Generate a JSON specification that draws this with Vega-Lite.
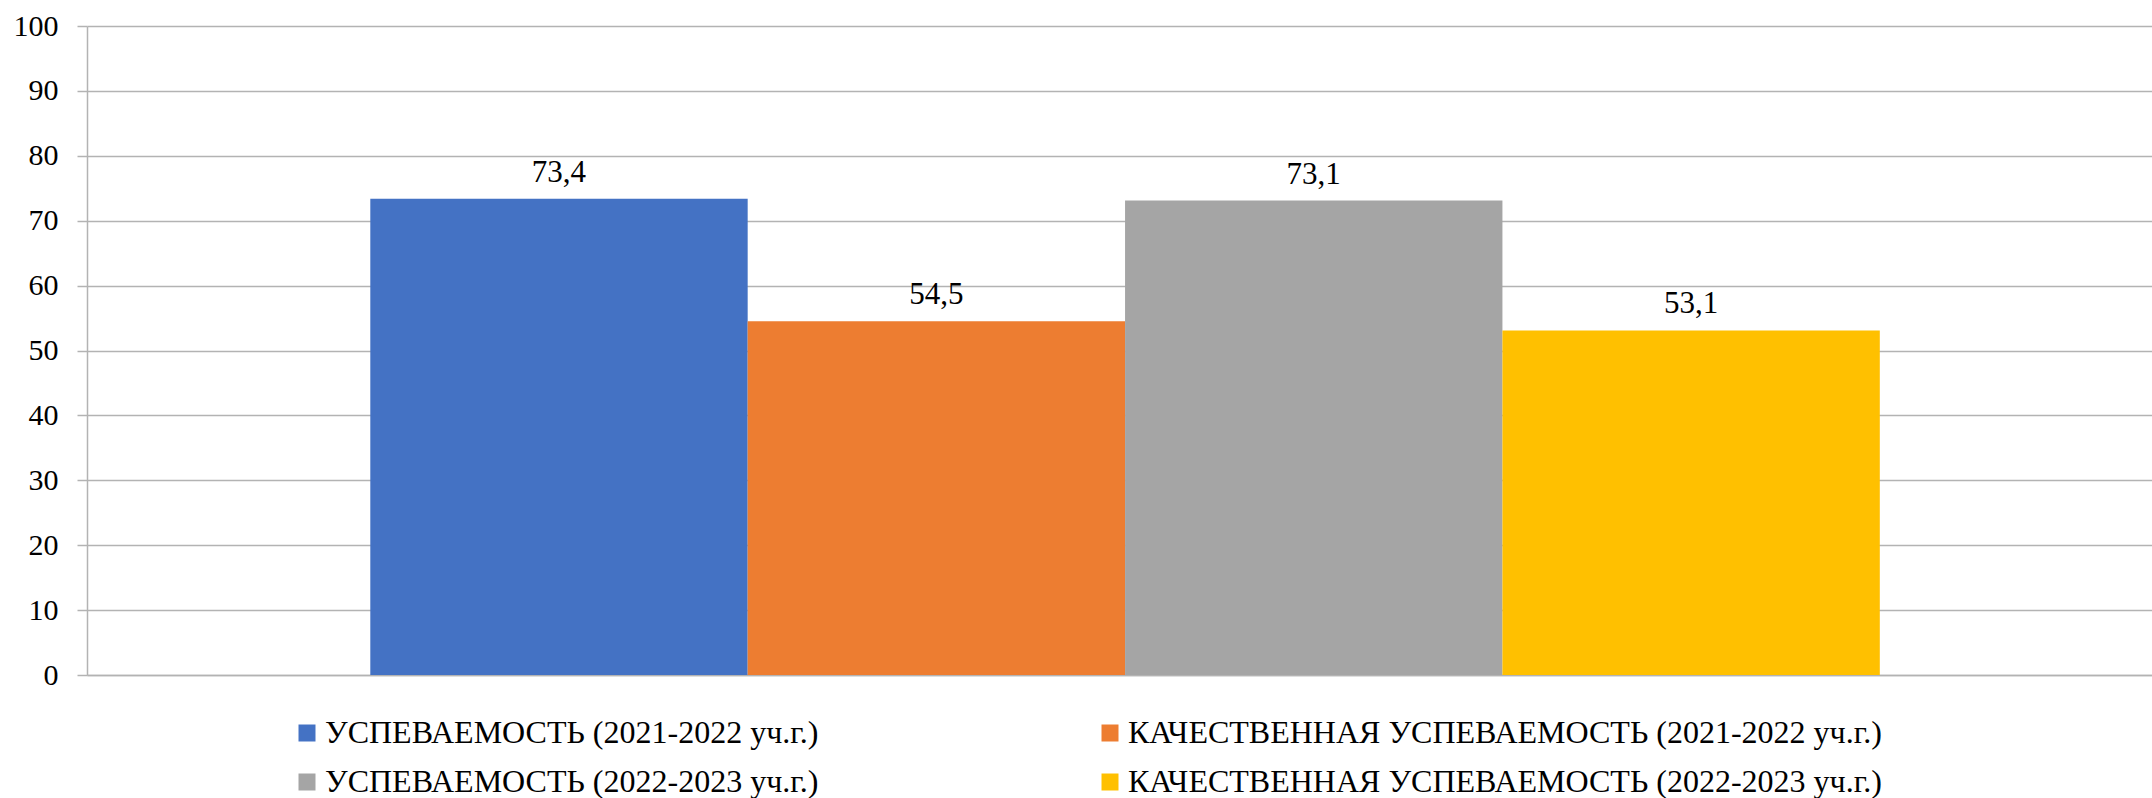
{
  "$schema": "https://vega.github.io/schema/vega-lite/v6.json",
  "width": 2065,
  "height": 649,
  "autosize": {"type": "none"},
  "padding": {"left": 87, "top": 26, "right": 0, "bottom": 123},
  "background": "white",
  "config": {
    "locale": {"number": {"decimal": ",", "thousands": " ", "grouping": [3], "currency": ["", ""]}},
    "view": {"stroke": null},
    "font": "Liberation Serif"
  },
  "data": {
    "values": [
      {"series": "УСПЕВАЕМОСТЬ (2021-2022 уч.г.)", "value": 73.4},
      {"series": "КАЧЕСТВЕННАЯ УСПЕВАЕМОСТЬ (2021-2022 уч.г.)", "value": 54.5},
      {"series": "УСПЕВАЕМОСТЬ (2022-2023 уч.г.)", "value": 73.1},
      {"series": "КАЧЕСТВЕННАЯ УСПЕВАЕМОСТЬ (2022-2023 уч.г.)", "value": 53.1}
    ]
  },
  "encoding": {
    "x": {
      "field": "series",
      "type": "nominal",
      "sort": null,
      "scale": {"paddingInner": 0, "paddingOuter": 0.736, "align": 0.51},
      "axis": {"labels": false, "ticks": false, "title": null, "domain": true, "domainColor": "#b3b3b3", "domainWidth": 1.5}
    },
    "y": {
      "field": "value",
      "type": "quantitative",
      "scale": {"domain": [0, 100], "nice": false},
      "axis": {
        "values": [0, 10, 20, 30, 40, 50, 60, 70, 80, 90, 100],
        "title": null,
        "grid": true,
        "gridColor": "#b3b3b3",
        "gridWidth": 1.5,
        "domain": true,
        "domainColor": "#b3b3b3",
        "domainWidth": 1.5,
        "tickColor": "#b3b3b3",
        "tickSize": 10,
        "tickWidth": 1.5,
        "labelPadding": 19,
        "labelFont": "Liberation Serif",
        "labelFontSize": 30,
        "labelColor": "#000000",
        "format": "d"
      }
    }
  },
  "layer": [
    {
      "mark": {"type": "bar"},
      "encoding": {
        "color": {
          "field": "series",
          "type": "nominal",
          "sort": null,
          "scale": {
            "domain": [
              "УСПЕВАЕМОСТЬ (2021-2022 уч.г.)",
              "КАЧЕСТВЕННАЯ УСПЕВАЕМОСТЬ (2021-2022 уч.г.)",
              "УСПЕВАЕМОСТЬ (2022-2023 уч.г.)",
              "КАЧЕСТВЕННАЯ УСПЕВАЕМОСТЬ (2022-2023 уч.г.)"
            ],
            "range": ["#4472C4", "#ED7D31", "#A5A5A5", "#FFC000"]
          },
          "legend": {
            "title": null,
            "orient": "none",
            "legendX": 204,
            "legendY": 691,
            "direction": "horizontal",
            "columns": 2,
            "columnPadding": 275,
            "rowPadding": 17,
            "symbolType": "square",
            "symbolSize": 289,
            "symbolStrokeWidth": 0,
            "symbolOpacity": 1,
            "labelFont": "Liberation Serif",
            "labelFontSize": 32,
            "labelColor": "#000000",
            "labelLimit": 1200,
            "labelOffset": 2,
            "padding": 0
          }
        }
      }
    },
    {
      "mark": {"type": "text", "baseline": "alphabetic", "dy": -17, "font": "Liberation Serif", "fontSize": 31, "color": "#000000"},
      "encoding": {
        "text": {"field": "value", "type": "quantitative", "format": ".1f"}
      }
    }
  ]
}
